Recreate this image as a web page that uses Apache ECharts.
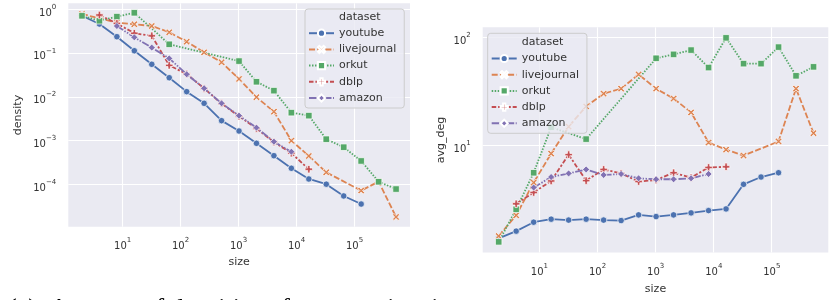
<!DOCTYPE html>
<html>
<head>
<meta charset="utf-8">
<script src="https://cdn.jsdelivr.net/npm/echarts@6/dist/echarts.min.js"></script>
<style>
    html, body { margin: 0; padding: 0; background: #fff; }
    #chart { width: 831px; height: 300px; }
</style>
</head>
<body>
<div id="chart"></div>
<script>
// community sizes (x, both panels)
var sizes = [2, 4, 8, 16, 32, 64, 128, 256, 512, 1024, 2048, 4096, 8192, 16384,
    32768, 65536, 131072, 262144, 524288];
var datasets = ['youtube', 'livejournal', 'orkut', 'dblp', 'amazon'];

// left panel: density
var densYoutube = [0.70, 0.455, 0.234, 0.112, 0.055, 0.0272, 0.0131, 0.0071, 0.00286, 0.00166,
    0.00087, 0.000455, 0.000235, 0.000134, 0.000102, 5.5e-5, 3.6e-5, null, null];
var densLivejournal = [0.77, 0.61, 0.49, 0.45, 0.41, 0.295, 0.18, 0.103, 0.061, 0.0255,
    0.0098, 0.00458, 0.00100, 0.000448, 0.00019, null, 7.3e-5, 0.000117, 1.83e-5];
var densOrkut = [0.70, 0.54, 0.67, 0.82, null, 0.157, null, null, null, 0.065,
    0.022, 0.0138, 0.00435, 0.00372, 0.00108, 0.00071, 0.000345, 0.000116, 7.9e-5];
var densDblp = [null, 0.73, 0.47, 0.28, 0.245, 0.052, 0.033, 0.0155, 0.0070, 0.0036,
    0.0019, 0.00093, 0.00052, 0.000224, null, null, null, null, null];
var densAmazon = [null, null, 0.41, 0.226, 0.132, 0.075, 0.0325, 0.0156, 0.0071, 0.00372,
    0.00198, 0.00095, 0.00056, null, null, null, null, null, null];

// right panel: avg_deg
var degYoutube = [1.39, 1.62, 1.96, 2.09, 2.05, 2.09, 2.05, 2.03, 2.29, 2.21,
    2.29, 2.39, 2.51, 2.60, 4.39, 5.13, 5.62, null, null];
var degLivejournal = [1.46, 2.27, 4.56, 8.45, 15.0, 23.1, 30.3, 33.7, 45.6, 33.7,
    27.3, 20.3, 10.7, 9.19, 8.1, null, 10.95, 33.7, 13.05];
var degOrkut = [1.29, 2.58, 5.62, 14.8, null, 11.5, null, null, null, 64.3,
    69.9, 76.6, 52.8, 99.4, 57.4, 57.4, 81.6, 44.3, 53.6];
var degDblp = [null, 2.90, 3.69, 4.72, 8.27, 4.75, 6.03, 5.54, 4.66, 4.82,
    5.62, 5.06, 6.29, 6.38, null, null, null, null, null];
var degAmazon = [null, null, 4.10, 5.13, 5.54, 6.03, 5.36, 5.47, 4.99, 4.89,
    4.89, 4.99, 5.47, null, null, null, null, null, null];

var densData = [densYoutube, densLivejournal, densOrkut, densDblp, densAmazon];
var degData = [degYoutube, degLivejournal, degOrkut, degDblp, degAmazon];

var colors = ['#4C72B0', '#DD8452', '#55A868', '#C44E52', '#8172B3'];
var dashes = ['solid', [6, 2.2], [1.5, 1.5], [4.5, 1.9, 2.2, 1.9], [7.5, 1.5, 1.5, 1.5, 1.5, 1.5]];
var symbols = [
    'circle',
    'path://M0,2 L2,0 L5,3 L8,0 L10,2 L7,5 L10,8 L8,10 L5,7 L2,10 L0,8 L3,5 Z',
    'rect',
    'path://M3.4,0 H6.6 V3.4 H10 V6.6 H6.6 V10 H3.4 V6.6 H0 V3.4 H3.4 Z',
    'diamond'
];
var symbolSizes = [6.5, 7, 6.5, 7.5, 7];

var FONT = '"DejaVu Sans", sans-serif';
var TXT = '#333';

function pairs(vals) {
    var out = [];
    for (var i = 0; i < sizes.length; i++) {
        if (vals[i] != null) out.push([sizes[i], vals[i]]);
    }
    return out;
}

// 10^n tick labels, superscript via rich text
function powLabel(v) {
    var e = Math.round(Math.log10(v));
    var s = e < 0 ? '\u2212' + (-e) : '' + e;
    return '{p| }{b|10}{s|' + s + '}';
}
var powRich = {
    p: {fontSize: 1, lineHeight: 18},
    b: {fontSize: 10, verticalAlign: 'bottom', fontFamily: FONT, color: TXT},
    s: {fontSize: 7, verticalAlign: 'top', padding: [3.4, 0, 0, 0], fontFamily: FONT, color: TXT}
};

function logAxis(grid, lo, hi, name, gap, isX) {
    return {
        type: 'log', logBase: 10, gridIndex: grid,
        min: Math.pow(10, lo), max: Math.pow(10, hi),
        axisLine: {show: false}, axisTick: {show: false},
        splitLine: {show: true, showMinLine: false, showMaxLine: false,
            lineStyle: {color: '#fff', width: 1.1}},
        axisLabel: {formatter: powLabel, rich: powRich, margin: isX ? 7 : 12,
            showMinLabel: false, showMaxLabel: false},
        name: name, nameLocation: 'middle', nameGap: gap,
        nameTextStyle: {fontFamily: FONT, fontSize: 11, color: TXT}
    };
}

var series = [];
// placeholder so "dataset" shows as a legend heading
series.push({name: 'dataset', type: 'line', xAxisIndex: 0, yAxisIndex: 0, data: []});
for (var p = 0; p < 2; p++) {
    for (var d = 0; d < datasets.length; d++) {
        series.push({
            name: datasets[d], type: 'line',
            xAxisIndex: p, yAxisIndex: p,
            data: pairs(p === 0 ? densData[d] : degData[d]),
            symbol: symbols[d], symbolSize: symbolSizes[d],
            showAllSymbol: true,
            lineStyle: {color: colors[d], width: 1.8, type: dashes[d]},
            itemStyle: {color: colors[d], borderColor: '#fff', borderWidth: 0.7},
            emphasis: {disabled: true}
        });
    }
}

function legendData() {
    var out = [{name: 'dataset', icon: 'rect', itemStyle: {opacity: 0}, lineStyle: {opacity: 0}}];
    for (var i = 0; i < datasets.length; i++) out.push({name: datasets[i]});
    return out;
}
function legendAt(left, top, pad) {
    return {
        orient: 'vertical', left: left, top: top, padding: pad,
        data: legendData(), itemWidth: 25, itemHeight: 9, itemGap: 4.2,
        textStyle: {fontFamily: FONT, fontSize: 11, color: TXT, lineHeight: 12},
        backgroundColor: 'rgba(234,234,242,0.8)', borderColor: '#cccccc',
        borderWidth: 1, borderRadius: 3, selectedMode: false
    };
}

var chart = echarts.init(document.getElementById('chart'), null, {renderer: 'canvas'});
chart.setOption({
    animation: false,
    backgroundColor: '#fff',
    grid: [
        {left: 68.3, top: 3.3, width: 341.7, height: 223.4, show: true,
            backgroundColor: '#EAEAF2', borderWidth: 0},
        {left: 482.7, top: 27.3, width: 345.6, height: 227.7, show: true,
            backgroundColor: '#EAEAF2', borderWidth: 0}
    ],
    xAxis: [
        logAxis(0, 0.065, 5.96, 'size', 30, true),
        logAxis(1, 0.026, 5.974, 'size', 31.5, true)
    ],
    yAxis: [
        logAxis(0, -4.96, 0.13, 'density', 45, false),
        logAxis(1, 0.012, 2.095, 'avg_deg', 36, false)
    ],
    legend: [
        legendAt(305, 9, [2, 8, 4, 3]),
        legendAt(487.7, 33.3, [3, 8, 4, 3])
    ],
    graphic: [{
        type: 'text', left: 8, top: 296,
        style: {text: '(a)  Average of densities of community sizes',
            font: '26px "Liberation Serif", serif', fill: '#000'}
    }],
    series: series
});
</script>
</body>
</html>
